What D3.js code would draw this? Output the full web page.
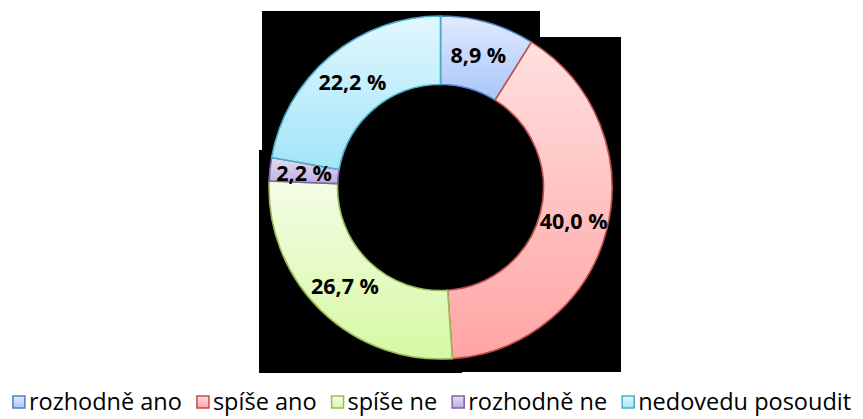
<!DOCTYPE html>
<html>
<head>
<meta charset="utf-8">
<script src="https://cdn.jsdelivr.net/npm/d3@7"></script>
<style>
  body { margin: 0; background: #fff; }
  svg { display: block; }
</style>
</head>
<body>
<div class="container"></div>
<script>
// data
var categories = ["rozhodně ano", "spíše ano", "spíše ne", "rozhodně ne", "nedovedu posoudit"];
var values = [8.9, 40.0, 26.7, 2.2, 22.2];
var labels = ["8,9 %", "40,0 %", "26,7 %", "2,2 %", "22,2 %"];

// colours: [top of gradient, bottom of gradient, outline]
var topColors = ["#e2eafe", "#ffe0e0", "#f4fde6", "#e4dcf2", "#e2f7fe"];
var bottomColors = ["#a9c5f8", "#ffa4a4", "#d6f8a4", "#bfaee2", "#a2e5f8"];
var strokeColors = ["#4f81bd", "#c0504d", "#9bbb59", "#8064a2", "#4bacc6"];

var W = 863, H = 419;

function makeStage(w, h) {
	var stage = d3.select(".container")
		.append("svg")
		.attr("width", w)
		.attr("height", h);
	return stage;
}

var svg = makeStage(W, H);

// the black backdrop behind the ring (uneven edges as in the original)
svg.append("path")
	.attr("d", "M262,11H540V37H621V372H462V373H259V150H262Z")
	.attr("fill", "#000");

var cx = 440.5, cy = 187.5, rOuter = 171.5, rInner = 103;

var defs = svg.append("defs");
categories.forEach(function (c, i) {
	var g = defs.append("linearGradient")
		.attr("id", "grad" + i)
		.attr("x1", 0).attr("y1", 0).attr("x2", 0).attr("y2", 1);
	g.append("stop").attr("offset", "0%").attr("stop-color", topColors[i]);
	g.append("stop").attr("offset", "100%").attr("stop-color", bottomColors[i]);
});

var pie = d3.pie().sort(null).value(function (d) { return d; });
var arc = d3.arc().innerRadius(rInner).outerRadius(rOuter);

var arcs = pie(values);

var ring = svg.append("g").attr("transform", "translate(" + cx + "," + cy + ")");

ring.selectAll("path.slice")
	.data(arcs)
	.enter().append("path")
	.attr("class", "slice")
	.attr("d", arc)
	.attr("fill", function (d, i) { return "url(#grad" + i + ")"; })
	.attr("stroke", function (d, i) { return strokeColors[i]; })
	.attr("stroke-width", 1.6)
	.attr("stroke-linejoin", "round");

ring.selectAll("text.lbl")
	.data(arcs)
	.enter().append("text")
	.attr("class", "lbl")
	.attr("x", function (d) { return arc.centroid(d)[0]; })
	.attr("y", function (d) { return arc.centroid(d)[1]; })
	.attr("dy", "0.36em")
	.attr("text-anchor", "middle")
	.style("font-family", "'Open Sans', sans-serif")
	.style("font-weight", "bold")
	.style("font-size", "21.5px")
	.style("fill", "#000")
	.text(function (d, i) { return labels[i]; });

// legend, laid out left to right and centred
var legend = svg.append("g");
var boxSize = 12, boxGap = 4, itemGap = 15;
var items = legend.selectAll("g.item")
	.data(categories)
	.enter().append("g")
	.attr("class", "item");

items.append("rect")
	.attr("width", boxSize)
	.attr("height", boxSize)
	.attr("y", -boxSize / 2)
	.attr("fill", function (d, i) { return "url(#grad" + i + ")"; })
	.attr("stroke", function (d, i) { return strokeColors[i]; })
	.attr("stroke-width", 1.5);

items.append("text")
	.attr("x", boxSize + boxGap)
	.attr("dy", "0.35em")
	.style("font-family", "'Open Sans', sans-serif")
	.style("font-size", "23.5px")
	.style("fill", "#000")
	.text(function (d) { return d; });

var xpos = 0;
var widths = [];
items.each(function () {
	var tw = d3.select(this).select("text").node().getComputedTextLength();
	widths.push(boxSize + boxGap + tw);
});
var total = d3.sum(widths) + itemGap * (widths.length - 1);
var startX = 432 - total / 2;
items.attr("transform", function (d, i) {
	var x = startX + xpos;
	xpos += widths[i] + itemGap;
	return "translate(" + x + ",402)";
});
</script>
</body>
</html>
